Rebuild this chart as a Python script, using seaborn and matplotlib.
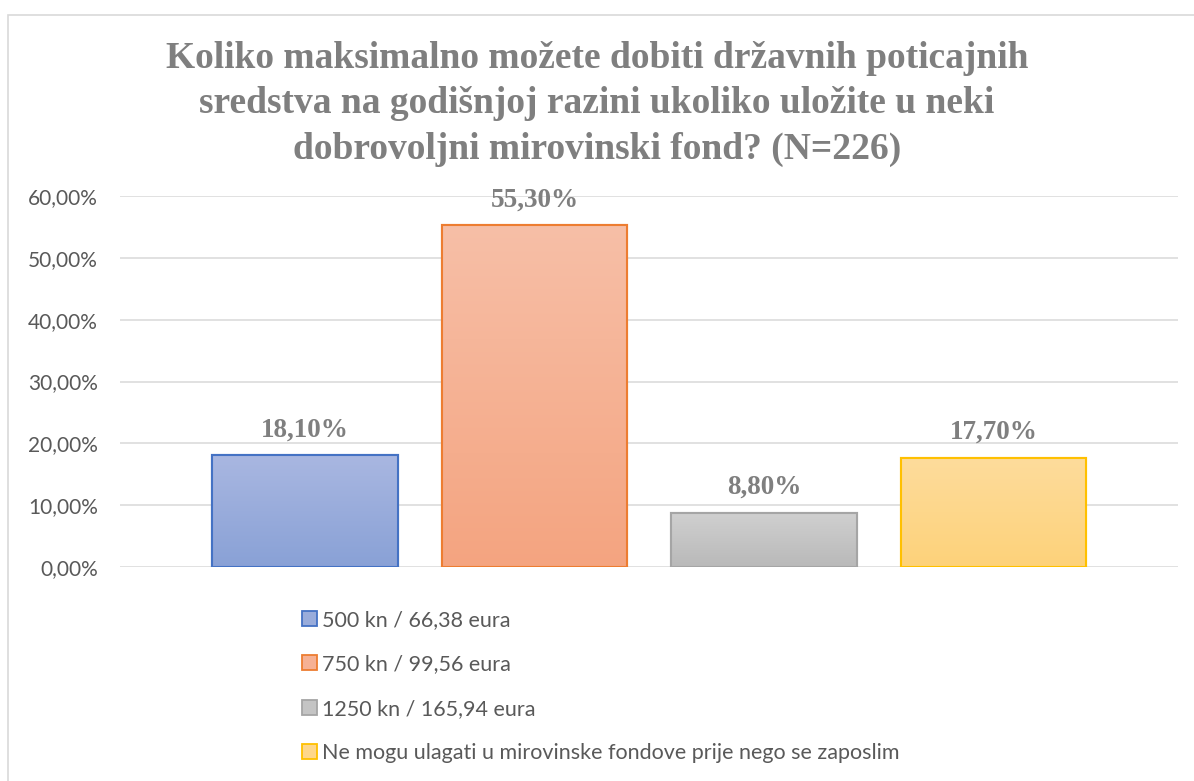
import numpy as np
import pandas as pd
import matplotlib
matplotlib.use("Agg")
import matplotlib.pyplot as plt
from matplotlib.patches import Patch, Rectangle
from matplotlib.ticker import FuncFormatter
from matplotlib.colors import LinearSegmentedColormap
import seaborn as sns

categories = ["500 kn / 66,38 eura", "750 kn / 99,56 eura", "1250 kn / 165,94 eura",
              "Ne mogu ulagati u mirovinske fondove prije nego se zaposlim"]
values = [18.10, 55.30, 8.80, 17.70]
yticks = [0, 10, 20, 30, 40, 50, 60]
title = ("Koliko maksimalno možete dobiti državnih poticajnih\n"
         "sredstva na godišnjoj razini ukoliko uložite u neki\n"
         "dobrovoljni mirovinski fond? (N=226)")

edge_colors = ["#4472C4", "#ED7D31", "#A5A5A5", "#FFC000"]
top_colors = ["#A9B7E1", "#F7BFA7", "#D0D0D0", "#FEDC9C"]
bottom_colors = ["#89A1D6", "#F4A480", "#B9B9B9", "#FDD27A"]
mid_colors = ["#99ACDB", "#F6B194", "#C4C4C4", "#FED78B"]

sns.set_theme(style="white")
plt.rcParams['font.family'] = ['Lato', 'DejaVu Sans']

fig = plt.figure(figsize=(11.94, 7.81), dpi=100)
ax = fig.add_axes([120/1194, 1-567/781, (1178-120)/1194, (567-196)/781])

df = pd.DataFrame({"cat": categories, "val": values})
sns.barplot(data=df, x="cat", y="val", hue="cat", palette=mid_colors,
            width=0.81, legend=False, ax=ax, saturation=1)

for i, bar in enumerate(ax.patches):
    bar.set_edgecolor(edge_colors[i])
    bar.set_linewidth(1.5)
    x0, w = bar.get_x(), bar.get_width()
    y0, h = bar.get_y(), bar.get_height()
    cmap = LinearSegmentedColormap.from_list("g", [bottom_colors[i], top_colors[i]])
    grad = np.linspace(0, 1, 256).reshape(-1, 1)
    im = ax.imshow(grad, extent=(x0, x0 + w, y0, y0 + h), origin="lower",
                   aspect="auto", cmap=cmap, zorder=bar.get_zorder() + 0.1)
    im.set_clip_path(bar)
    edge = Rectangle((x0, y0), w, h, fill=False, edgecolor=edge_colors[i],
                     linewidth=1.5, zorder=bar.get_zorder() + 0.2)
    ax.add_patch(edge)

ax.set_xlim(-0.806, 3.804)
ax.set_ylim(0, 60)
ax.set_yticks(yticks)
ax.yaxis.set_major_formatter(FuncFormatter(lambda v, p: f"{v:.2f}".replace('.', ',') + "%"))
ax.tick_params(axis='y', length=0, pad=16, labelsize=15, labelcolor="#595959")
ax.set_xticks([])
ax.set_xlabel("")
ax.set_ylabel("")
ax.yaxis.grid(True, color="#D9D9D9", linewidth=1.1)
ax.set_axisbelow(True)
for s in ax.spines.values():
    s.set_visible(False)

labels = [f"{v:.2f}".replace('.', ',') + "%" for v in values]
for i, cont in enumerate(ax.containers):
    ax.bar_label(cont, labels=[labels[i]], padding=9, fontsize=19.5, fontweight="bold",
                 color="#7F7F7F", family="Liberation Serif")

fig.text(0.5, 1 - 104/781, title, ha="center", va="center", fontsize=27,
         fontweight="bold", color="#7F7F7F", family="Liberation Serif",
         linespacing=1.4)

handles = [Patch(facecolor=mid_colors[i], edgecolor=edge_colors[i], linewidth=1.3)
           for i in range(len(categories))]
fig.legend(handles, categories, loc="upper left",
           bbox_to_anchor=(302/1194, 1 - 610/781), frameon=False,
           fontsize=15.5, labelcolor="#595959", handlelength=0.7, handleheight=0.7,
           handletextpad=0.25, labelspacing=1.13, borderpad=0, borderaxespad=0)

fig.patches.append(Rectangle((8/1194, -0.05), 1.2, 1 - 15/781 + 0.05,
                             transform=fig.transFigure, fill=False,
                             edgecolor="#D9D9D9", linewidth=1.2))

fig.savefig("out.png", dpi=100, facecolor="white")
